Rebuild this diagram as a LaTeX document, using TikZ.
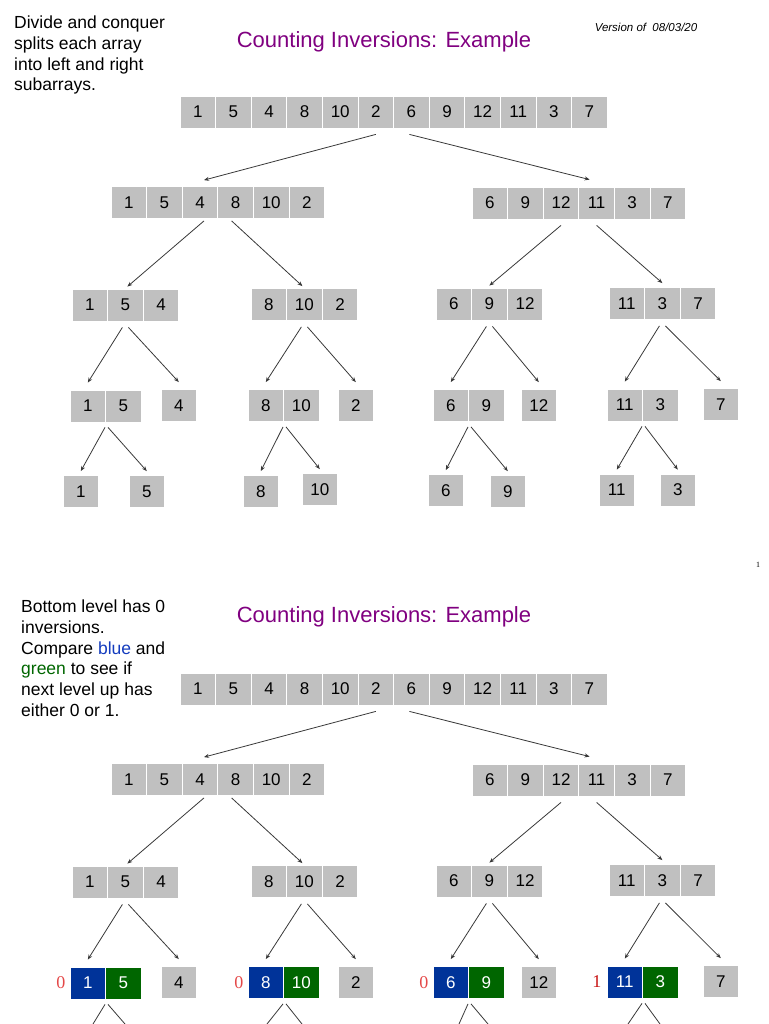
\documentclass[tikz,border=0pt]{standalone}
\usepackage{fontspec}
\setmainfont{Liberation Sans}
\newfontfamily\serifnum{Liberation Serif}
\usetikzlibrary{arrows.meta,positioning}
\definecolor{cellgray}{RGB}{192,192,192}
\definecolor{titlepurple}{RGB}{128,0,128}
\definecolor{leftblue}{RGB}{0,51,153}
\definecolor{rightgreen}{RGB}{0,102,0}
\definecolor{bluetext}{RGB}{20,60,190}
\definecolor{zerored}{RGB}{228,72,72}
\definecolor{onered}{RGB}{200,20,20}

\begin{document}
\begin{tikzpicture}[x=1pt,y=-1pt,
  cell/.style={draw=white,line width=0.8pt,fill=cellgray,minimum width=35.6pt,minimum height=32pt,inner sep=0pt,font=\fontsize{17}{17}\selectfont},
  lcell/.style={cell,fill=leftblue,text=white},
  rcell/.style={cell,fill=rightgreen,text=white},
  arr/.style={draw=black!78,line width=0.8pt,-{Stealth[length=5pt,width=4pt]}},
  cut/.style={draw=black!78,line width=0.8pt},
  note/.style={anchor=north west,align=left,inner sep=0pt,font=\fontsize{17.5}{20.7}\selectfont},
  heading/.style={text=titlepurple,inner sep=0pt,font=\fontsize{22}{22}\selectfont},
  count/.style={inner sep=0pt,font=\serifnum\fontsize{18}{18}\selectfont}]
\useasboundingbox (0,0) rectangle (768,1024);

% first slide: divide
\node[note] (say1) at (14,16) {Divide and conquer\\splits each array\\into left and right\\subarrays.};
\node[heading] (head1) at (384,42) {Counting Inversions: Example};
\node[inner sep=0pt,font=\itshape\fontsize{11.5}{11.5}\selectfont] (ver) at (646,27) {Version of~ 08/03/20};
\node[inner sep=0pt,font=\serifnum\fontsize{8}{8}\selectfont] (pg) at (758,565) {1};

\foreach \n/\x/\y/\vals in {
  a/180/112/{1,5,4,8,10,2,6,9,12,11,3,7},
  b/111/202.5/{1,5,4,8,10,2}, c/472/203/{6,9,12,11,3,7},
  d/72/305/{1,5,4}, e/251/304.5/{8,10,2}, f/436/304/{6,9,12}, g/609/303.5/{11,3,7},
  h/70/406/{1,5}, i/161/405.5/{4}, j/248/405.5/{8,10}, k/338/405.5/{2},
  l/433/405.5/{6,9}, m/521/405.5/{12}, n/607/405/{11,3}, o/703/404.5/{7},
  p/63/491.5/{1}, q/129/491.5/{5}, r/243/491.5/{8}, s/302/489.5/{10},
  t/428/490.5/{6}, u/490/491.5/{9}, v/599/490/{11}, w/660/490/{3}}
  \foreach \v [count=\k] in \vals
    \node[cell] (\n\k) at ({\x+(\k-0.5)*35.6},\y) {\v};

\draw[arr] ([yshift=-6pt]a6.south) -- ([xshift=4pt,yshift=6pt]b3.north);
\draw[arr] ([xshift=-2pt,yshift=-6pt]a7.south) -- ([xshift=-7pt,yshift=7pt]c4.north);
\draw[arr] ([xshift=4pt,yshift=-2pt]b3.south) -- ([xshift=2pt,yshift=2pt]d2.north);
\draw[arr] ([xshift=-4pt,yshift=-2pt]b4.south) -- ([xshift=-2pt,yshift=2pt]e2.north);
\draw[arr] ([yshift=-6pt]c3.south) -- ([yshift=2pt]f2.north);
\draw[arr] ([yshift=-6pt]c4.south) -- ([yshift=4pt]g2.north);
\foreach \p/\l/\r in {d2/h1/i1, e2/j1/k1, f2/l1/m1, g2/n1/o1}{
  \draw[arr] ([xshift=-3pt,yshift=-6pt]\p.south) -- ([yshift=7pt]\l.north);
  \draw[arr] ([xshift=3pt,yshift=-6pt]\p.south) -- ([yshift=7pt]\r.north);}
\foreach \p/\l/\r in {h/p1/q1, j/r1/s1, l/t1/u1, n/v1/w1}{
  \draw[arr] ([xshift=-1pt,yshift=-5pt]\p1.south east) -- ([yshift=4pt]\l.north);
  \draw[arr] ([xshift=2pt,yshift=-5pt]\p1.south east) -- ([yshift=4pt]\r.north);}

% second slide: bottom level counted
\node[note] (say2) at (21,600) {Bottom level has 0\\inversions.\\Compare {\color{bluetext}blue} and\\{\color{rightgreen}green} to see if\\next level up has\\either 0 or 1.};
\node[heading] (head2) at (384,617) {Counting Inversions: Example};

\foreach \n/\x/\y/\vals in {
  A/180/689/{1,5,4,8,10,2,6,9,12,11,3,7},
  B/111/779.5/{1,5,4,8,10,2}, C/472/780/{6,9,12,11,3,7},
  D/72/882/{1,5,4}, E/251/881.5/{8,10,2}, F/436/881/{6,9,12}, G/609/880.5/{11,3,7},
  I/161/982.5/{4}, K/338/982.5/{2}, M/521/982.5/{12}, O/703/981.5/{7}}
  \foreach \v [count=\k] in \vals
    \node[cell] (\n\k) at ({\x+(\k-0.5)*35.6},\y) {\v};
\foreach \n/\x/\y/\u/\w in {H/70/983/1/5, J/248/982.5/8/10, L/433/982.5/6/9, N/607/982/11/3}{
  \node[lcell] (\n1) at ({\x+17.8},\y) {\u};
  \node[rcell] (\n2) at ({\x+53.4},\y) {\w};}

\node[count,text=zerored,left=4pt of H1] (cH) {0};
\node[count,text=zerored,left=4pt of J1] (cJ) {0};
\node[count,text=zerored,left=4pt of L1] (cL) {0};
\node[count,text=onered,left=5pt of N1] (cN) {1};

\draw[arr] ([yshift=-6pt]A6.south) -- ([xshift=4pt,yshift=6pt]B3.north);
\draw[arr] ([xshift=-2pt,yshift=-6pt]A7.south) -- ([xshift=-7pt,yshift=7pt]C4.north);
\draw[arr] ([xshift=4pt,yshift=-2pt]B3.south) -- ([xshift=2pt,yshift=2pt]D2.north);
\draw[arr] ([xshift=-4pt,yshift=-2pt]B4.south) -- ([xshift=-2pt,yshift=2pt]E2.north);
\draw[arr] ([yshift=-6pt]C3.south) -- ([yshift=2pt]F2.north);
\draw[arr] ([yshift=-6pt]C4.south) -- ([yshift=4pt]G2.north);
\foreach \p/\l/\r in {D2/H1/I1, E2/J1/K1, F2/L1/M1, G2/N1/O1}{
  \draw[arr] ([xshift=-3pt,yshift=-6pt]\p.south) -- ([yshift=7pt]\l.north);
  \draw[arr] ([xshift=3pt,yshift=-6pt]\p.south) -- ([yshift=7pt]\r.north);}
\foreach \p/\l/\r in {H/93/125, J/267/302, L/459/488, N/628/660}{
  \coordinate (\p cutl) at (\l,1024);
  \coordinate (\p cutr) at (\r,1024);
  \draw[cut] ([xshift=-1pt,yshift=-5pt]\p1.south east) -- (\p cutl);
  \draw[cut] ([xshift=2pt,yshift=-5pt]\p1.south east) -- (\p cutr);}
\end{tikzpicture}
\end{document}
